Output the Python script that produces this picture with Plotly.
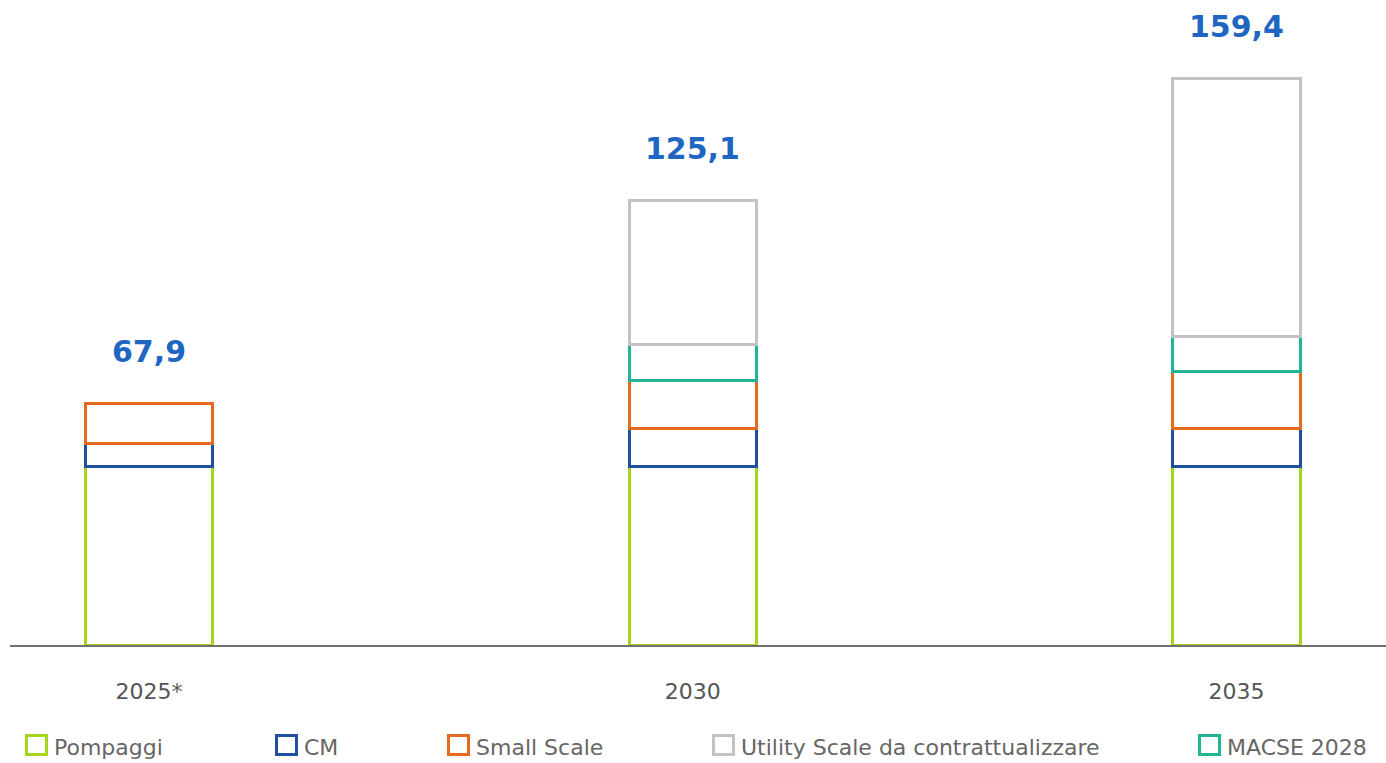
import plotly.graph_objects as go

# Capacity by year (stacked components); None = component not present
years = ["2025*", "2030", "2035"]
pompaggi = [50.2, 50.2, 50.2]
cm = [6.4, 10.8, 10.8]
small_scale = [11.3, 13.6, 16.0]
macse_2028 = [None, 9.9, 9.9]
utility_scale = [None, 40.6, 72.5]
totals = [67.9, 125.1, 159.4]
total_labels = ["67,9", "125,1", "159,4"]

series = [
    ("Pompaggi", pompaggi, "#a6d61c"),
    ("CM", cm, "#1f4f9f"),
    ("Small Scale", small_scale, "#e46a1f"),
    ("MACSE 2028", macse_2028, "#22b496"),
    ("Utility Scale da contrattualizzare", utility_scale, "#c3c3c3"),
]
legend_order = ["Pompaggi", "CM", "Small Scale",
                "Utility Scale da contrattualizzare", "MACSE 2028"]

W, H = 1386, 763
ML, MR, MT, MB = 10, 0, 0, 118
FONT = "DejaVu Sans"

fig = go.Figure()
for name, vals, color in series:
    fig.add_trace(go.Bar(
        x=years, y=vals, name=name, width=0.234,
        marker=dict(color="white", line=dict(color=color, width=3)),
        showlegend=False,
    ))

# Totals above each stack (category axis: position by index)
for i, (tot, lab) in enumerate(zip(totals, total_labels)):
    fig.add_annotation(
        x=i, y=tot, text=lab, showarrow=False,
        yanchor="middle", yshift=52,
        font=dict(family=FONT, size=30, color="#1f66c2", weight="bold"),
    )

# Legend row drawn with outlined squares and labels
pw, ph = W - ML - MR, H - MT - MB
def px_x(px):
    return (px - ML) / pw
def px_y(py):
    return (H - MB - py) / ph

colors = {n: c for n, _, c in series}
legend_px = [25, 275, 447, 712, 1198]
for name, left in zip(legend_order, legend_px):
    fig.add_shape(
        type="rect", xref="paper", yref="paper",
        x0=px_x(left + 1.5), x1=px_x(left + 21.5),
        y0=px_y(735.5), y1=px_y(754.5),
        line=dict(color=colors[name], width=3), fillcolor="white",
    )
    fig.add_annotation(
        xref="paper", yref="paper", x=px_x(left + 27), y=px_y(747),
        xanchor="left", yanchor="middle", text=name, showarrow=False,
        font=dict(family=FONT, size=22, color="#666666"),
    )

fig.update_layout(
    width=W, height=H,
    margin=dict(l=ML, r=MR, t=MT, b=MB),
    barmode="stack",
    plot_bgcolor="white", paper_bgcolor="white",
    font=dict(family=FONT),
    showlegend=False,
    xaxis=dict(
        type="category", range=[-0.2556, 2.275],
        showline=True, linecolor="#707070", linewidth=2,
        showgrid=False, zeroline=False,
        ticks="outside", ticklen=0, ticklabelstandoff=26,
        tickfont=dict(family=FONT, size=22, color="#555555"),
    ),
    yaxis=dict(
        range=[0, 181.6], visible=False, showgrid=False, zeroline=False,
    ),
)

fig.write_html("out.html")
